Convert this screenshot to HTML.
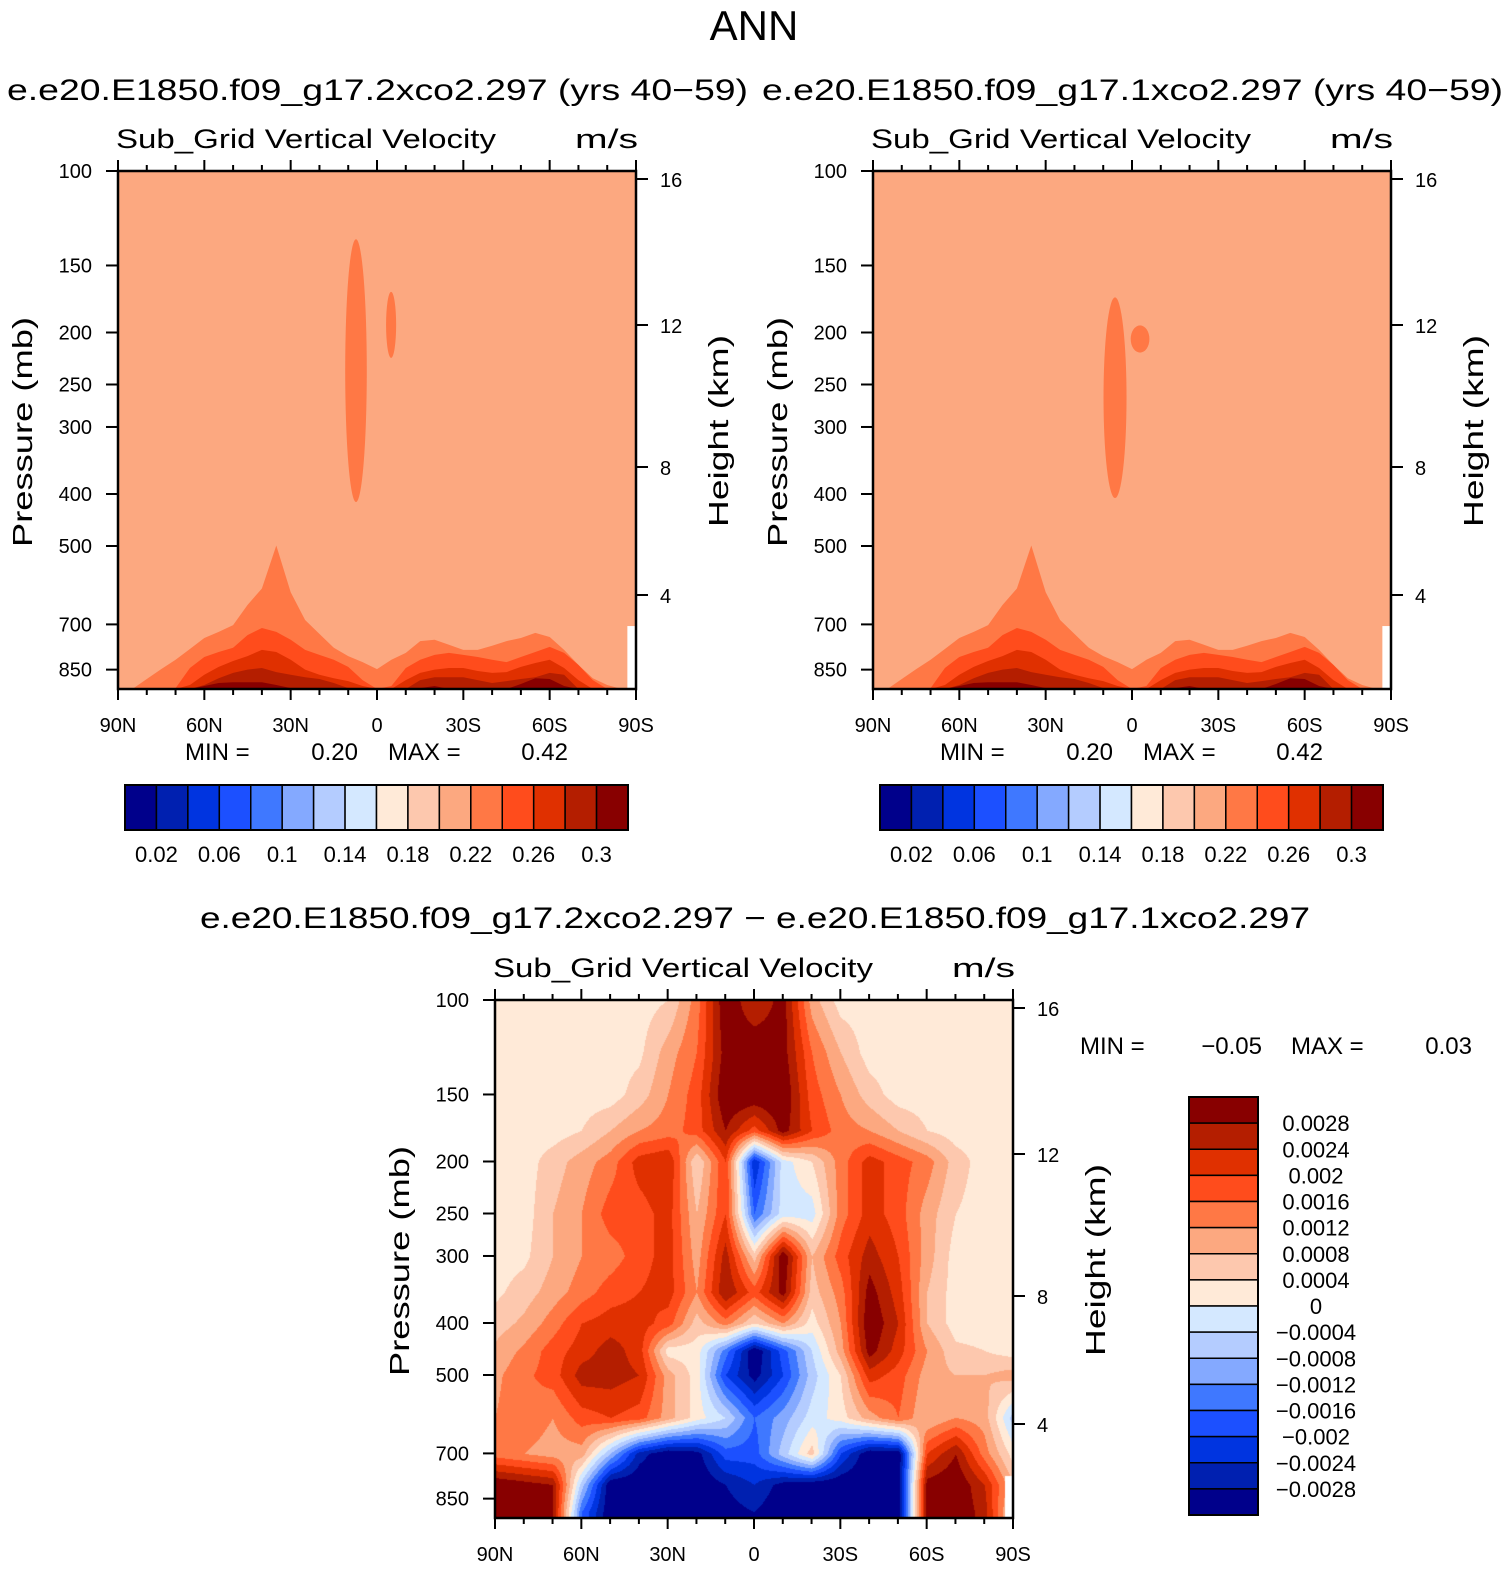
<!DOCTYPE html>
<html><head><meta charset="utf-8">
<style>
html,body{margin:0;padding:0;background:#fff;}
#wrap{position:relative;width:1509px;height:1570px;overflow:hidden;font-family:"Liberation Sans",sans-serif;}
#diffCanvas{position:absolute;left:495px;top:1000px;}
#svg{position:absolute;left:0;top:0;}
</style></head>
<body>
<div id="wrap">
<canvas id="diffCanvas" width="518" height="519"></canvas>
<svg id="svg" width="1509" height="1570" xmlns="http://www.w3.org/2000/svg"></svg>
</div>
<script>
// ---------- data ----------
const palette = ["#00008b","#0020b0","#0034e0","#1c50ff","#3f78ff","#84a9ff","#b4ccff","#d4e8ff","#ffead8","#fdc8ae","#fca880","#ff7845","#ff4c1c","#e03000","#b41e00","#880000"];
const topLevels = [0.02,0.04,0.06,0.08,0.10,0.12,0.14,0.16,0.18,0.20,0.22,0.24,0.26,0.28,0.30];
const topLevelLabels = ["0.02","0.06","0.1","0.14","0.18","0.22","0.26","0.3"];
const diffLevelLabels = ["0.0028","0.0024","0.002","0.0016","0.0012","0.0008","0.0004","0","\u22120.0004","\u22120.0008","\u22120.0012","\u22120.0016","\u22120.002","\u22120.0024","\u22120.0028"];
const latTickLabels = ["90N","60N","30N","0","30S","60S","90S"];
const latTicks = [90,60,30,0,-30,-60,-90];
const presTicks = [100,150,200,250,300,400,500,700,850];
const heightTicks = [4,8,12,16];
// top panel: latitudes (5 deg) and pressure ceiling (hPa) of each filled contour band (925 = absent)
const lats5 = [90,85,80,75,70,65,60,55,50,45,40,35,30,25,20,15,10,5,0,-5,-10,-15,-20,-25,-30,-35,-40,-45,-50,-55,-60,-65,-70,-75,-80,-85,-90];
const ceil022 = [925,925,885,848,815,778,742,723,702,644,600,499,610,687,729,774,802,823,848,815,791,752,748,764,781,781,767,752,742,726,739,781,833,882,908,925,925];
const ceil024 = [925,925,925,925,920,844,805,788,774,733,711,723,748,781,798,815,840,889,924,912,844,815,798,791,798,805,815,823,805,788,771,791,833,889,924,925,925];
const ceil026 = [925,925,925,925,925,908,869,840,819,802,781,788,815,850,869,882,893,912,925,925,889,862,850,844,844,855,862,859,840,826,815,844,889,925,925,925,925];
const ceil028 = [925,925,925,925,925,925,908,882,862,850,844,859,869,878,885,900,920,925,925,925,925,889,878,878,878,889,900,893,885,878,862,869,925,925,925,925,925];
const ceil030 = [925,925,925,925,925,925,912,900,897,897,897,908,920,925,925,925,925,925,925,925,925,920,912,925,925,925,925,925,904,882,885,912,925,925,925,925,925];
// upper-level streaks: [lat, pTop, pBottom, widthDeg]
const leftStreaks = [[7.3,134,414,7.5],[-4.9,168,223,3.5]];
const rightStreaks = [[5.9,172,407,8],[-2.8,194,218,6.5]];
// difference field (units 1e-4 m/s) on 10-degree grid
const diffLats = [90,80,70,60,50,40,30,20,10,0,-10,-20,-30,-40,-50,-60,-70,-80,-90];
const diffPres = [100,125,150,175,200,250,300,350,400,450,500,600,700,800,900];
const diffRows = [
 [2,2,2,2,2,2,4,14,32,24,30,10,2,2,2,2,2,2,2],
 [2,2,2,2,2,3,10,16,30,32,30,16,8,2,2,2,2,2,2],
 [2,2,2,2,2,6,12,18,32,32,32,18,12,6,2,2,2,2,2],
 [2,2,2,4,8,12,14,18,28,18,30,20,14,12,8,4,2,2,2],
 [2,2,6,10,14,22,24,4,20,-24,-2,4,14,22,18,14,6,2,2],
 [2,2,8,12,18,18,22,8,20,-16,-2,-2,14,22,18,10,4,2,2],
 [2,3,8,12,14,18,22,10,26,6,32,8,18,26,20,10,2,2,2],
 [3,6,10,14,18,20,22,12,28,18,30,6,14,30,22,8,2,2,2],
 [6,9,14,20,22,22,18,6,14,4,12,2,12,32,24,8,2,2,2],
 [9,13,18,22,26,22,2,2,-14,-32,-18,-4,10,30,22,12,5,4,2],
 [11,15,18,26,26,24,10,2,-20,-30,-20,-6,4,22,18,10,8,8,10],
 [12,15,12,18,20,18,10,2,-4,-16,-10,-2,2,10,16,8,12,10,-6],
 [14,12,10,10,-8,-26,-32,-30,-18,-18,-6,6,-20,-32,-32,20,28,14,2],
 [32,30,28,-6,-32,-32,-32,-32,-28,-24,-30,-32,-32,-32,-32,30,32,24,8],
 [32,30,28,-16,-32,-32,-32,-32,-30,-28,-32,-32,-32,-32,-32,30,32,26,4]
];
const diffBounds = [-28,-24,-20,-16,-12,-8,-4,0,4,8,12,16,20,24,28];

// ---------- helpers ----------
const NS="http://www.w3.org/2000/svg";
const svg=document.getElementById('svg');
function mk(tag,attrs,parent){const e=document.createElementNS(NS,tag);for(const k in attrs)e.setAttribute(k,attrs[k]);(parent||svg).appendChild(e);return e;}
function txt(s,x,y,size,anchor,parent,extra){const e=mk('text',Object.assign({x:x,y:y,'font-size':size,'text-anchor':anchor||'start','font-family':'Liberation Sans, sans-serif',fill:'#000'},extra||{}),parent);e.textContent=s;return e;}
const PW=518, PH=518, DEC=536.5;
function xs(ox,lat){return ox+(90-lat)/180*PW;}
function ys(oy,p){return Math.min(oy+PH, oy+DEC*Math.log10(p/100));}

// ---------- titles ----------
let t=txt('ANN',754,40,42,'middle');


function axes(ox,oy,g){
  for(let lat=90;lat>=-90;lat-=10){
    const major=(lat%30===0), L=major?11:6, x=xs(ox,lat);
    mk('line',{x1:x,y1:oy+PH,x2:x,y2:oy+PH+L,stroke:'#000','stroke-width':2},g);
    mk('line',{x1:x,y1:oy,x2:x,y2:oy-L,stroke:'#000','stroke-width':2},g);
  }
  latTicks.forEach((lat,i)=>{const e=txt(latTickLabels[i],xs(ox,lat),oy+PH+43,20,'middle',g);
    });
  presTicks.forEach(p=>{const y=ys(oy,p);
    mk('line',{x1:ox-12,y1:y,x2:ox,y2:y,stroke:'#000','stroke-width':2},g);
    const e=txt(String(p),ox-26,y+7,20,'end',g);
    });
  const hp=[oy+PH-94,oy+296,oy+154,oy+8];
  heightTicks.forEach((h,i)=>{const y=hp[i];
    mk('line',{x1:ox+PW,y1:y,x2:ox+PW+12,y2:y,stroke:'#000','stroke-width':2},g);
    const e=txt(String(h),ox+PW+24,y+8,20,'start',g);
    });
  mk('rect',{x:ox,y:oy,width:PW,height:PH,fill:'none',stroke:'#000','stroke-width':2.5},g);
  let e=txt('Pressure (mb)',0,0,28,'middle',g,{transform:`translate(${ox-86},${oy+261}) rotate(-90)`,textLength:230,lengthAdjust:'spacingAndGlyphs'});
  
  e=txt('Height (km)',0,0,28,'middle',g,{transform:`translate(${ox+PW+92},${oy+260}) rotate(-90)`,textLength:192,lengthAdjust:'spacingAndGlyphs'});
  
  e=txt('Sub_Grid Vertical Velocity',ox-2,oy-23,27,'start',g,{textLength:380,lengthAdjust:'spacingAndGlyphs'});
  
  e=txt('m/s',ox+PW+2,oy-23,27,'end',g,{textLength:63,lengthAdjust:'spacingAndGlyphs'});
  
}

function topPanel(ox,name,streaks,subtitle,sx){
  const g=mk('g',{});
  
  
  const oy=171;
  const st=txt(subtitle,sx,100,30,'start',g,{textLength:741,lengthAdjust:'spacingAndGlyphs'});
  
  const bg=mk('rect',{x:ox,y:oy,width:PW,height:PH,fill:palette[10]},g);
  
  streaks.forEach(s=>{
    const cx=xs(ox,s[0]), y1=ys(oy,s[1]), y2=ys(oy,s[2]), w=s[3]/180*PW;
    const e=mk('ellipse',{cx:cx,cy:(y1+y2)/2,rx:w/2,ry:(y2-y1)/2,fill:palette[11]},g);
    
  });
  const ceils=[ceil022,ceil024,ceil026,ceil028,ceil030];
  ceils.forEach((c,k)=>{
    let d=`M${xs(ox,90)},${oy+PH}`;
    lats5.forEach((lat,i)=>{d+=` L${xs(ox,lat).toFixed(1)},${ys(oy,c[i]).toFixed(1)}`;});
    d+=` L${xs(ox,-90)},${oy+PH} Z`;
    const e=mk('path',{d:d,fill:palette[11+k]},g);
    
  });
  const m=mk('rect',{x:xs(ox,-87),y:ys(oy,705),width:xs(ox,-90)-xs(ox,-87),height:oy+PH-ys(oy,705),fill:'#fff'},g);
  
  axes(ox,oy,g);
  let e=txt('MIN =',ox+67,760,24,'start',g);
  e=txt('0.20',ox+240,760,24,'end',g);
  e=txt('MAX =',ox+270,760,24,'start',g);
  e=txt('0.42',ox+450,760,24,'end',g);
  const cb=mk('g',{},g);
  const cx0=ox+7, bw=503/16;
  palette.forEach((c,i)=>{const r=mk('rect',{x:cx0+i*bw,y:785,width:bw,height:45,fill:c,stroke:'#000','stroke-width':1.5},cb);
    });
  mk('rect',{x:cx0,y:785,width:503,height:45,fill:'none',stroke:'#000','stroke-width':2},cb);
  topLevelLabels.forEach((l,j)=>{const e2=txt(l,cx0+(1+2*j)*bw,862,22,'middle',cb);
    });
}
topPanel(118,'left-panel',leftStreaks,'e.e20.E1850.f09_g17.2xco2.297 (yrs 40\u221259)',7);
topPanel(873,'right-panel',rightStreaks,'e.e20.E1850.f09_g17.1xco2.297 (yrs 40\u221259)',762);

// ---------- difference panel ----------
(function(){
  const ox=495, oy=1000;
  const g=mk('g',{});
  
  
  const t2=txt('e.e20.E1850.f09_g17.2xco2.297 \u2212 e.e20.E1850.f09_g17.1xco2.297',755,928,30,'middle',g,{textLength:1110,lengthAdjust:'spacingAndGlyphs'});
  
  const cv=document.getElementById('diffCanvas'),ctx=cv.getContext('2d');
  const img=ctx.createImageData(PW,519);
  const rowY=diffPres.map(p=>DEC*Math.log10(p/100));
  const rgb=palette.map(h=>[parseInt(h.substr(1,2),16),parseInt(h.substr(3,2),16),parseInt(h.substr(5,2),16)]);
  const nc=diffLats.length;
  for(let py=0;py<519;py++){
    let r=0;while(r<rowY.length-2&&py>rowY[r+1])r++;
    let fy=(py-rowY[r])/(rowY[r+1]-rowY[r]);fy=Math.max(0,Math.min(1,fy));
    for(let px=0;px<PW;px++){
      const fc=px/PW*(nc-1);let c=Math.min(nc-2,Math.floor(fc));const fx=fc-c;
      const a=diffRows[r][c]*(1-fx)+diffRows[r][c+1]*fx;
      const b=diffRows[r+1][c]*(1-fx)+diffRows[r+1][c+1]*fx;
      const v=a*(1-fy)+b*fy;
      let k=0;diffBounds.forEach(bd=>{if(v>bd)k++;});
      const lat=90-px/PW*180, p=100*Math.pow(10,py/DEC);
      let col=rgb[k];
      if(lat<-87.2&&p>770)col=[255,255,255];
      const i=(py*PW+px)*4;img.data[i]=col[0];img.data[i+1]=col[1];img.data[i+2]=col[2];img.data[i+3]=255;
    }
  }
  ctx.putImageData(img,0,0);
  axes(ox,oy,g);
  let e=txt('MIN =',1080,1054,24,'start',g);
  e=txt('\u22120.05',1262,1054,24,'end',g);
  e=txt('MAX =',1291,1054,24,'start',g);
  e=txt('0.03',1472,1054,24,'end',g);
  const cb=mk('g',{},g);
  const bh=418/16;
  for(let i=0;i<16;i++){const r2=mk('rect',{x:1189,y:1097+i*bh,width:69,height:bh,fill:palette[15-i],stroke:'#000','stroke-width':1.5},cb);
    }
  mk('rect',{x:1189,y:1097,width:69,height:418,fill:'none',stroke:'#000','stroke-width':2},cb);
  diffLevelLabels.forEach((l,j)=>{const e2=txt(l,1316,1097+(j+1)*bh+8,22,'middle',cb);
    });
})();
</script>
</body></html>
